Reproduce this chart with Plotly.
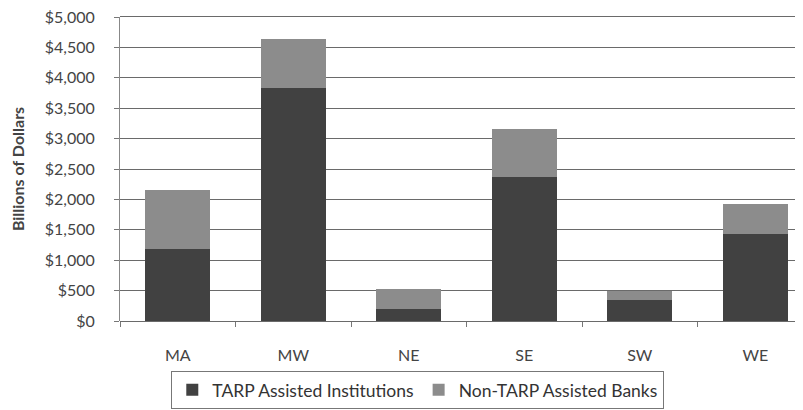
import plotly.graph_objects as go

regions = ["MA", "MW", "NE", "SE", "SW", "WE"]
tarp = [1180, 3840, 200, 2370, 350, 1430]
non_tarp_total = [2155, 4645, 525, 3155, 490, 1925]
non_tarp = [t - a for t, a in zip(non_tarp_total, tarp)]
y_ticks = [0, 500, 1000, 1500, 2000, 2500, 3000, 3500, 4000, 4500, 5000]
y_labels = ["$0", "$500", "$1,000", "$1,500", "$2,000", "$2,500", "$3,000",
            "$3,500", "$4,000", "$4,500", "$5,000"]

FONT = "Lato, 'Open Sans', sans-serif"
GRID = "#6a6a6a"

fig = go.Figure()
fig.add_trace(go.Bar(x=regions, y=tarp, name="TARP Assisted Institutions",
                     marker=dict(color="#414141", line=dict(width=0))))
fig.add_trace(go.Bar(x=regions, y=non_tarp, name="Non-TARP Assisted Banks",
                     marker=dict(color="#8c8c8c", line=dict(width=0))))

# top gridline (plotly drops the gridline at the very edge of the range)
fig.add_shape(type="line", xref="paper", x0=0, x1=1, yref="paper", y0=1.0016, y1=1.0016,
              line=dict(color=GRID, width=1.2), layer="above")

# page body has an 8px default margin, so the figure is sized/offset to compensate
fig.update_layout(
    width=795, height=402,
    barmode="stack", bargap=0.44,
    margin=dict(l=112, r=0, t=9, b=89, autoexpand=False),
    plot_bgcolor="white", paper_bgcolor="white",
    font=dict(family=FONT, color="#444444", size=16),
    showlegend=True,
    legend=dict(orientation="h", x=0.436, xanchor="center", y=-0.164, yanchor="top",
                bordercolor="#777777", borderwidth=1, font=dict(size=17.5, color="#333333"),
                traceorder="normal", itemwidth=30),
    xaxis=dict(range=[-0.5, 5.413], showgrid=False, showline=False, automargin=False,
               ticks="outside", tickson="boundaries", ticklen=5, tickcolor="#777777",
               ticklabelstandoff=23, ticklabeloverflow="allow",
               tickfont=dict(size=16, color="#444444")),
    yaxis=dict(range=[0, 5000], tickvals=y_ticks, ticktext=y_labels, automargin=False,
               showgrid=True, gridcolor=GRID, gridwidth=1,
               showline=True, linecolor="#888888", linewidth=1,
               ticks="outside", ticklen=5, tickcolor="#777777",
               ticklabelstandoff=16, ticklabeloverflow="allow",
               zeroline=True, zerolinecolor=GRID, zerolinewidth=1,
               tickfont=dict(size=16, color="#444444"),
               title=dict(text="<b>Billions of Dollars</b>", font=dict(size=16, color="#444444"),
                          standoff=18)),
)

fig.write_html("out.html")
